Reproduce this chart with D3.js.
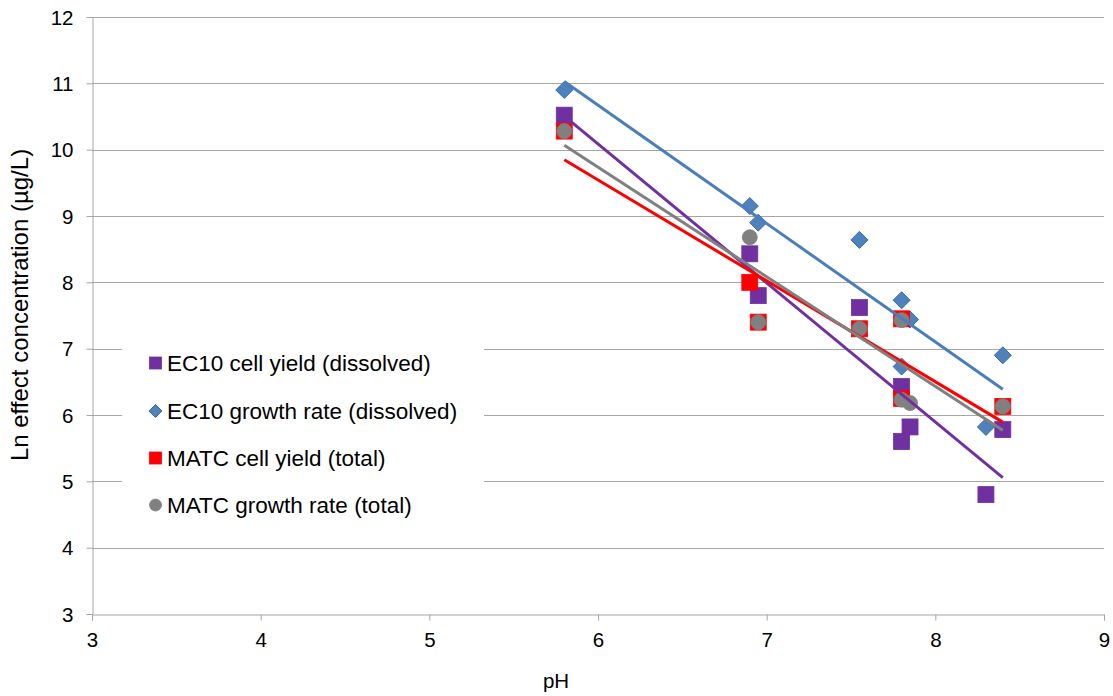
<!DOCTYPE html>
<html>
<head>
<meta charset="utf-8">
<script src="https://cdn.jsdelivr.net/npm/d3@7"></script>
<style>
  html, body { margin: 0; padding: 0; background: #fff; }
  svg text { font-family: "Liberation Sans", Arial, sans-serif; fill: #000; }
</style>
</head>
<body>
<svg id="chart" width="1113" height="696"></svg>
<script>
// pH vs. ln effect concentration, four series with linear trendlines
const xTicks = [3, 4, 5, 6, 7, 8, 9];
const yTicks = [3, 4, 5, 6, 7, 8, 9, 10, 11, 12];

const seriesNames = [
  "EC10 cell yield (dissolved)",
  "EC10 growth rate (dissolved)",
  "MATC cell yield (total)",
  "MATC growth rate (total)"
];

const ec10YieldPH  = [5.8, 6.9, 6.95, 7.55, 7.8, 7.85, 7.8, 8.3, 8.4];
const ec10YieldLn  = [10.52, 8.43, 7.8, 7.62, 6.43, 5.82, 5.6, 4.8, 5.78];

const ec10RatePH   = [5.8, 6.9, 6.95, 7.55, 7.8, 7.85, 7.8, 8.4, 8.3];
const ec10RateLn   = [10.9, 9.15, 8.9, 8.64, 7.73, 7.44, 6.73, 6.9, 5.82];

const matcYieldPH  = [5.8, 6.9, 6.95, 7.55, 7.8, 7.8, 8.4];
const matcYieldLn  = [10.28, 8.0, 7.4, 7.3, 7.45, 6.25, 6.13];

const matcRatePH   = [5.8, 6.9, 6.95, 7.55, 7.8, 7.8, 7.85, 8.4];
const matcRateLn   = [10.28, 8.68, 7.4, 7.3, 7.43, 6.23, 6.18, 6.13];

const series = [
  { name: seriesNames[0], xs: ec10YieldPH, ys: ec10YieldLn, shape: "square",  fill: "#7030A0", stroke: "#7030A0", line: "#7030A0" },
  { name: seriesNames[1], xs: ec10RatePH,  ys: ec10RateLn,  shape: "diamond", fill: "#4F81BD", stroke: "#3D6A9E", line: "#4A7EBB" },
  { name: seriesNames[2], xs: matcYieldPH, ys: matcYieldLn, shape: "square",  fill: "#FF0000", stroke: "#FF0000", line: "#FF0000" },
  { name: seriesNames[3], xs: matcRatePH,  ys: matcRateLn,  shape: "circle",  fill: "#808080", stroke: "#808080", line: "#808080" }
];

const svg = d3.select("#chart");
const plot = { left: 92, right: 1104, top: 17, bottom: 614 };

const x = d3.scaleLinear().domain([3, 9]).range([plot.left, plot.right]);
const y = d3.scaleLinear().domain([3, 12]).range([plot.bottom, plot.top]);

const gridColor = "#A6A6A6";
const tickFont = 20.5;

// horizontal gridlines
svg.append("g")
  .selectAll("line")
  .data(yTicks.filter(v => v !== 3))
  .join("line")
  .attr("x1", plot.left).attr("x2", plot.right)
  .attr("y1", d => Math.round(y(d)) + 0.5).attr("y2", d => Math.round(y(d)) + 0.5)
  .attr("stroke", gridColor).attr("stroke-width", 1);

// axes
const yAxis = svg.append("g")
  .attr("transform", `translate(${plot.left + 0.5},0)`)
  .call(d3.axisLeft(y).tickValues(yTicks).tickFormat(d3.format("d")).tickSize(6).tickPadding(13));
const xAxis = svg.append("g")
  .attr("transform", `translate(0,${Math.round(plot.bottom) + 0.5})`)
  .call(d3.axisBottom(x).tickValues(xTicks).tickFormat(d3.format("d")).tickSize(6).tickPadding(12));

[yAxis, xAxis].forEach(g => {
  g.select(".domain").attr("stroke", gridColor);
  g.selectAll(".tick line").attr("stroke", gridColor);
  g.selectAll(".tick text").attr("font-size", tickFont).attr("fill", "#000")
    .style("font-family", "'Liberation Sans', Arial, sans-serif");
});
yAxis.selectAll(".tick text").attr("dy", "0.35em");

// axis titles
svg.append("text")
  .attr("x", 556).attr("y", 688)
  .attr("text-anchor", "middle").attr("font-size", 20.5)
  .text("pH");
svg.append("text")
  .attr("transform", "translate(28,305) rotate(-90)")
  .attr("text-anchor", "middle").attr("font-size", 24)
  .text("Ln effect concentration (µg/L)");

// legend background hides the gridlines behind it
const legend = { x: 122, y: 331, w: 362, h: 198 };
svg.append("rect")
  .attr("x", legend.x).attr("y", legend.y)
  .attr("width", legend.w).attr("height", legend.h)
  .attr("fill", "#fff");

function drawMarker(g, shape, cx, cy, size, fill, stroke) {
  const h = size / 2;
  if (shape === "square") {
    g.append("rect").attr("x", cx - h).attr("y", cy - h)
      .attr("width", size).attr("height", size)
      .attr("fill", fill).attr("stroke", stroke).attr("stroke-width", 0.8);
  } else if (shape === "diamond") {
    g.append("path")
      .attr("d", `M${cx},${cy - h}L${cx + h},${cy}L${cx},${cy + h}L${cx - h},${cy}Z`)
      .attr("fill", fill).attr("stroke", stroke).attr("stroke-width", 1);
  } else {
    g.append("circle").attr("cx", cx).attr("cy", cy).attr("r", h)
      .attr("fill", fill).attr("stroke", stroke).attr("stroke-width", 0.8);
  }
}

// markers
const markerSize = { square: 16, diamond: 17, circle: 15 };
const markers = svg.append("g");
series.forEach(s => {
  const g = markers.append("g");
  s.xs.forEach((xv, i) => {
    drawMarker(g, s.shape, x(xv), y(s.ys[i]), markerSize[s.shape], s.fill, s.stroke);
  });
});

// least-squares trendlines spanning each series' pH range
function fit(xs, ys) {
  const mx = d3.mean(xs), my = d3.mean(ys);
  let sxy = 0, sxx = 0;
  xs.forEach((xv, i) => { sxy += (xv - mx) * (ys[i] - my); sxx += (xv - mx) ** 2; });
  const slope = sxy / sxx;
  return v => my + slope * (v - mx);
}
const trends = svg.append("g");
series.forEach(s => {
  const f = fit(s.xs, s.ys);
  const [x0, x1] = d3.extent(s.xs);
  trends.append("line")
    .attr("x1", x(x0)).attr("y1", y(f(x0)))
    .attr("x2", x(x1)).attr("y2", y(f(x1)))
    .attr("stroke", s.line).attr("stroke-width", 3);
});

// legend entries
const legendRows = [363, 411, 458, 505];
const lg = svg.append("g");
series.forEach((s, i) => {
  const cy = legendRows[i];
  const sz = s.shape === "diamond" ? 13 : 12;
  drawMarker(lg, s.shape, 155.5, cy, sz, s.fill, s.stroke);
  lg.append("text")
    .attr("x", 167).attr("y", cy).attr("dy", "0.35em")
    .attr("font-size", 22.5)
    .text(s.name);
});
</script>
</body>
</html>
